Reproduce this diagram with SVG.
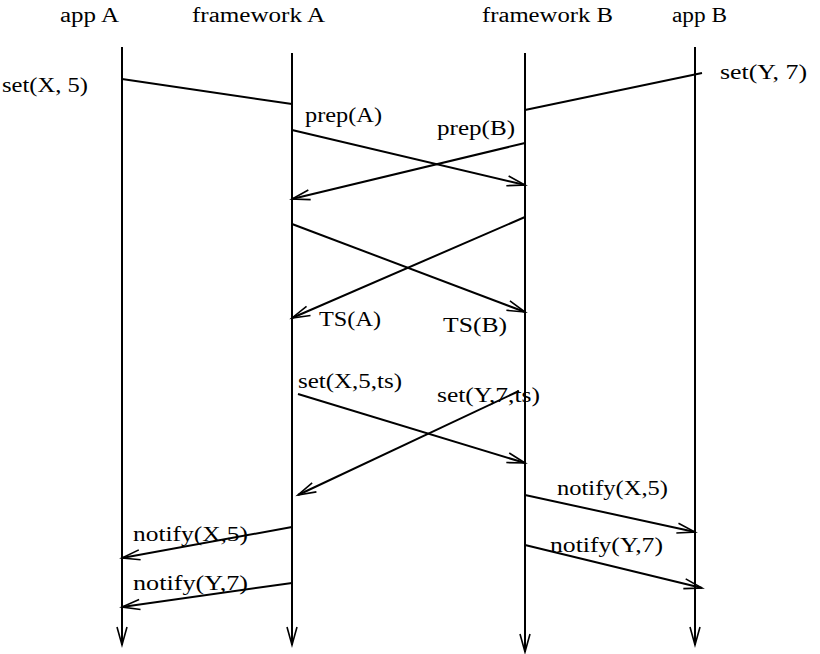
<svg xmlns="http://www.w3.org/2000/svg" width="820" height="654" viewBox="0 0 820 654">
<defs>
<style>
text{font-family:"Liberation Serif","Times New Roman",serif;font-size:20px;fill:#000}
.life{stroke:#000;stroke-width:2;fill:none}
.msg{stroke:#000;stroke-width:2;fill:none}
</style>
<marker id="arr" markerUnits="userSpaceOnUse" markerWidth="20" markerHeight="12" refX="18" refY="5" orient="auto" overflow="visible">
<path d="M0,0 L18,5 L0,10" fill="none" stroke="#000" stroke-width="1.6"/>
</marker>
</defs>
<rect width="820" height="654" fill="#fff"/>
<g id="appA">
<text x="60" y="22" textLength="59" lengthAdjust="spacingAndGlyphs">app A</text>
<line class="life" x1="122" y1="47" x2="122" y2="645" marker-end="url(#arr)"/>
</g>
<g id="frameworkA">
<text x="192" y="22" textLength="133" lengthAdjust="spacingAndGlyphs">framework A</text>
<line class="life" x1="292" y1="53" x2="292" y2="645" marker-end="url(#arr)"/>
</g>
<g id="frameworkB">
<text x="482" y="22" textLength="131" lengthAdjust="spacingAndGlyphs">framework B</text>
<line class="life" x1="525" y1="53" x2="525" y2="652" marker-end="url(#arr)"/>
</g>
<g id="appB">
<text x="672" y="22" textLength="55" lengthAdjust="spacingAndGlyphs">app B</text>
<line class="life" x1="695" y1="47" x2="695" y2="645" marker-end="url(#arr)"/>
</g>
<g id="connectors">
<line class="msg" x1="122" y1="79" x2="292" y2="104"/>
<line class="msg" x1="702" y1="73" x2="525" y2="110"/>
<line class="msg" x1="292" y1="130" x2="525" y2="185" marker-end="url(#arr)"/>
<line class="msg" x1="525" y1="143" x2="292" y2="199" marker-end="url(#arr)"/>
<line class="msg" x1="292" y1="224" x2="525" y2="312" marker-end="url(#arr)"/>
<line class="msg" x1="525" y1="217" x2="292" y2="318" marker-end="url(#arr)"/>
<line class="msg" x1="298" y1="394" x2="525" y2="463" marker-end="url(#arr)"/>
<line class="msg" x1="519" y1="391" x2="298" y2="495" marker-end="url(#arr)"/>
<line class="msg" x1="525" y1="495" x2="695" y2="532" marker-end="url(#arr)"/>
<line class="msg" x1="525" y1="545" x2="702" y2="588" marker-end="url(#arr)"/>
<line class="msg" x1="292" y1="527" x2="122" y2="558" marker-end="url(#arr)"/>
<line class="msg" x1="292" y1="583" x2="122" y2="607" marker-end="url(#arr)"/>
</g>
<g id="labels">
<text x="2" y="92" textLength="86" lengthAdjust="spacingAndGlyphs">set(X, 5)</text>
<text x="720" y="79" textLength="87" lengthAdjust="spacingAndGlyphs">set(Y, 7)</text>
<text x="305" y="122" textLength="77" lengthAdjust="spacingAndGlyphs">prep(A)</text>
<text x="437" y="135" textLength="78" lengthAdjust="spacingAndGlyphs">prep(B)</text>
<text x="319" y="326" textLength="62" lengthAdjust="spacingAndGlyphs">TS(A)</text>
<text x="443" y="332" textLength="64" lengthAdjust="spacingAndGlyphs">TS(B)</text>
<text x="298" y="388" textLength="104" lengthAdjust="spacingAndGlyphs">set(X,5,ts)</text>
<text x="437" y="402" textLength="103" lengthAdjust="spacingAndGlyphs">set(Y,7,ts)</text>
<text x="557" y="495" textLength="111" lengthAdjust="spacingAndGlyphs">notify(X,5)</text>
<text x="550" y="552" textLength="113" lengthAdjust="spacingAndGlyphs">notify(Y,7)</text>
<text x="133" y="541" textLength="115" lengthAdjust="spacingAndGlyphs">notify(X,5)</text>
<text x="133" y="590" textLength="115" lengthAdjust="spacingAndGlyphs">notify(Y,7)</text>
</g>
</svg>
